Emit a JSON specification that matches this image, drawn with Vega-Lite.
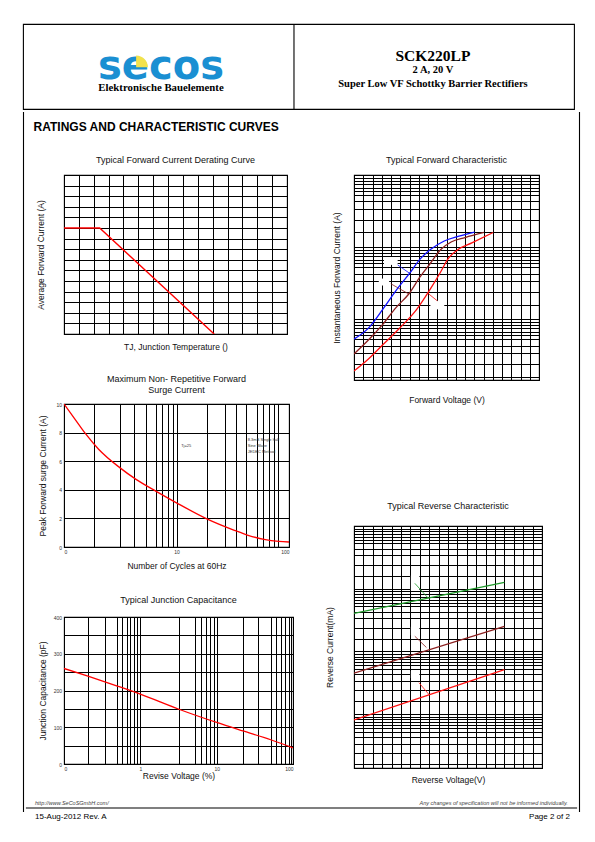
{
  "$schema": "https://vega.github.io/schema/vega-lite/v6.json",
  "background": "white",
  "padding": {"left": 22, "top": 22, "right": 0, "bottom": 0},
  "config": {
    "font": "Liberation Sans",
    "view": {"stroke": "#000", "strokeWidth": 1.1},
    "axis": {"grid": true, "gridColor": "#000", "gridOpacity": 1, "gridWidth": 1, "domain": false, "ticks": false, "labels": false, "titleFont": "Liberation Sans", "titleFontWeight": "normal", "titleFontSize": 8.5, "titleColor": "#111", "labelFont": "Liberation Sans", "labelFontSize": 5, "labelColor": "#333", "labelPadding": 2},
    "title": {"font": "Liberation Sans", "fontSize": 9, "fontWeight": "normal", "color": "#111", "lineHeight": 11}
  },
  "datasets": {
    "derate": [{"t": 0, "a": 2}, {"t": 24, "a": 2}, {"t": 101, "a": 0}],
    "surge": [{"n": 1, "a": 10}, {"n": 1.25, "a": 8.95}, {"n": 1.54, "a": 7.96}, {"n": 2.03, "a": 6.84}, {"n": 3.13, "a": 5.55}, {"n": 4.37, "a": 4.73}, {"n": 6.54, "a": 3.91}, {"n": 10, "a": 3.09}, {"n": 18.6, "a": 1.97}, {"n": 32.7, "a": 1.17}, {"n": 43.3, "a": 0.82}, {"n": 61.6, "a": 0.52}, {"n": 81.2, "a": 0.4}, {"n": 100, "a": 0.35}],
    "surgeText": [{"n": 11, "a": 7.04, "t": "Tj=25"}, {"n": 43, "a": 7.46, "t": "8.3mS Single half"}, {"n": 43, "a": 7.04, "t": "Sine Wave"}, {"n": 43, "a": 6.62, "t": "JEDEC Method"}],
    "cap": [{"v": 0.1, "c": 260}, {"v": 0.206, "c": 239}, {"v": 0.5, "c": 212}, {"v": 1, "c": 190}, {"v": 3.2, "c": 149}, {"v": 10, "c": 113}, {"v": 22, "c": 90}, {"v": 51, "c": 66}, {"v": 100, "c": 44}],
    "fwd": [
      {"s": "Tj=125°C", "v": 0, "i": 0.0534}, {"s": "Tj=125°C", "v": 0.078, "i": 0.0758}, {"s": "Tj=125°C", "v": 0.162, "i": 0.146}, {"s": "Tj=125°C", "v": 0.227, "i": 0.251}, {"s": "Tj=125°C", "v": 0.3, "i": 0.433}, {"s": "Tj=125°C", "v": 0.357, "i": 0.684}, {"s": "Tj=125°C", "v": 0.413, "i": 0.929}, {"s": "Tj=125°C", "v": 0.488, "i": 1.22}, {"s": "Tj=125°C", "v": 0.562, "i": 1.41}, {"s": "Tj=125°C", "v": 0.652, "i": 1.62},
      {"s": "Tj=75°C", "v": 0, "i": 0.0333}, {"s": "Tj=75°C", "v": 0.078, "i": 0.0518}, {"s": "Tj=75°C", "v": 0.153, "i": 0.084}, {"s": "Tj=75°C", "v": 0.227, "i": 0.146}, {"s": "Tj=75°C", "v": 0.296, "i": 0.225}, {"s": "Tj=75°C", "v": 0.357, "i": 0.388}, {"s": "Tj=75°C", "v": 0.413, "i": 0.6}, {"s": "Tj=75°C", "v": 0.469, "i": 0.929}, {"s": "Tj=75°C", "v": 0.525, "i": 1.18}, {"s": "Tj=75°C", "v": 0.6, "i": 1.36}, {"s": "Tj=75°C", "v": 0.702, "i": 1.6},
      {"s": "Tj=25°C", "v": 0, "i": 0.0193}, {"s": "Tj=25°C", "v": 0.078, "i": 0.0283}, {"s": "Tj=25°C", "v": 0.153, "i": 0.0439}, {"s": "Tj=25°C", "v": 0.246, "i": 0.0755}, {"s": "Tj=25°C", "v": 0.339, "i": 0.138}, {"s": "Tj=25°C", "v": 0.413, "i": 0.265}, {"s": "Tj=25°C", "v": 0.469, "i": 0.457}, {"s": "Tj=25°C", "v": 0.507, "i": 0.684}, {"s": "Tj=25°C", "v": 0.562, "i": 0.929}, {"s": "Tj=25°C", "v": 0.637, "i": 1.15}, {"s": "Tj=25°C", "v": 0.752, "i": 1.6}
    ],
    "fwdLead": [{"s": "Tj=125°C", "v": 0.236, "i": 0.569, "v2": 0.302, "i2": 0.433}, {"s": "Tj=75°C", "v": 0.199, "i": 0.312, "v2": 0.296, "i2": 0.225}, {"s": "Tj=25°C", "v": 0.4, "i": 0.23, "v2": 0.45, "i2": 0.181}],
    "fwdBox": [{"v": 0.162, "v2": 0.236, "i": 0.569, "i2": 0.732}, {"v": 0.134, "v2": 0.19, "i": 0.295, "i2": 0.368}, {"v": 0.413, "v2": 0.488, "i": 0.138, "i2": 0.181}],
    "rev": [{"s": "Tj=125°C", "v": 0, "i": 0.406}, {"s": "Tj=125°C", "v": 16, "i": 1.26}, {"s": "Tj=75°C", "v": 0, "i": 0.0451}, {"s": "Tj=75°C", "v": 16, "i": 0.252}, {"s": "Tj=25°C", "v": 0, "i": 0.00809}, {"s": "Tj=25°C", "v": 16, "i": 0.0512}],
    "revLead": [{"s": "Tj=125°C", "v": 6.47, "i": 1.22, "v2": 7.88, "i2": 0.711}, {"s": "Tj=75°C", "v": 6.47, "i": 0.175, "v2": 7.7, "i2": 0.116}, {"s": "Tj=25°C", "v": 6.91, "i": 0.0318, "v2": 7.99, "i2": 0.0205}],
    "revBox": [{"v": 6.05, "v2": 6.95, "i": 0.944, "i2": 1.62}, {"v": 6.05, "v2": 6.95, "i": 0.181, "i2": 0.248}, {"v": 6.05, "v2": 6.95, "i": 0.0378, "i2": 0.0487}]
  },
  "spacing": 0,
  "vconcat": [
    {
      "width": 551, "height": 85,
      "layer": [
        {"data": {"values": [{"t": "secos"}]}, "mark": {"type": "text", "font": "DejaVu Sans", "fontWeight": "bold", "fontSize": 40, "color": "#1a8fd2", "align": "center", "baseline": "alphabetic"}, "encoding": {"x": {"datum": 0.2505, "type": "quantitative", "scale": {"domain": [0, 1], "nice": false, "zero": false}, "axis": null}, "y": {"datum": 0.645, "type": "quantitative", "scale": {"domain": [0, 1], "reverse": true, "nice": false, "zero": false}, "axis": null}, "text": {"field": "t"}}},
        {"data": {"values": [{"t": "logo"}]}, "mark": {"type": "point", "shape": "M-1,1L-1,-1A2,2,0,0,1,1,1Z", "filled": true, "color": "#f2e24c", "opacity": 1, "size": 140}, "encoding": {"x": {"datum": 0.216, "type": "quantitative"}, "y": {"datum": 0.44, "type": "quantitative"}}},
        {"data": {"values": [{"t": "Elektronische Bauelemente"}]}, "mark": {"type": "text", "font": "Liberation Serif", "fontWeight": "bold", "fontSize": 10.8, "color": "#000", "align": "center", "baseline": "middle"}, "encoding": {"x": {"datum": 0.2505, "type": "quantitative"}, "y": {"datum": 0.75, "type": "quantitative"}, "text": {"field": "t"}}},
        {"data": {"values": [{"t": "SCK220LP"}]}, "mark": {"type": "text", "font": "Liberation Serif", "fontWeight": "bold", "fontSize": 15.5, "color": "#000", "align": "center", "baseline": "middle"}, "encoding": {"x": {"datum": 0.744, "type": "quantitative"}, "y": {"datum": 0.372, "type": "quantitative"}, "text": {"field": "t"}}},
        {"data": {"values": [{"t": "2 A, 20 V"}]}, "mark": {"type": "text", "font": "Liberation Serif", "fontWeight": "bold", "fontSize": 10.5, "color": "#000", "align": "center", "baseline": "middle"}, "encoding": {"x": {"datum": 0.744, "type": "quantitative"}, "y": {"datum": 0.537, "type": "quantitative"}, "text": {"field": "t"}}},
        {"data": {"values": [{"t": "Super Low VF Schottky Barrier Rectifiers"}]}, "mark": {"type": "text", "font": "Liberation Serif", "fontWeight": "bold", "fontSize": 10.5, "color": "#000", "align": "center", "baseline": "middle"}, "encoding": {"x": {"datum": 0.744, "type": "quantitative"}, "y": {"datum": 0.702, "type": "quantitative"}, "text": {"field": "t"}}},
        {"data": {"values": [{"t": "divider"}]}, "mark": {"type": "rule", "color": "#000", "strokeWidth": 1.1}, "encoding": {"x": {"datum": 0.4918, "type": "quantitative"}, "y": {"datum": 0, "type": "quantitative"}, "y2": {"datum": 1}}}
      ]
    },
    {
      "spacing": 0,
      "hconcat": [
        {
          "width": 1, "height": 700, "view": {"stroke": null},
          "data": {"values": [{"t": "left edge"}]},
          "mark": {"type": "rule", "color": "#000", "strokeWidth": 1.1},
          "encoding": {"x": {"datum": 0.5, "type": "quantitative", "scale": {"domain": [0, 1], "nice": false, "zero": false}, "axis": null}, "y": {"datum": 0, "type": "quantitative", "scale": {"domain": [0, 1], "nice": false, "zero": false}, "axis": null}, "y2": {"datum": 1}}
        },
        {
          "spacing": 0,
          "vconcat": [
            {
              "width": 549, "height": 42.5, "view": {"stroke": null},
              "data": {"values": [{"t": "RATINGS AND CHARACTERISTIC CURVES"}]},
              "mark": {"type": "text", "fontSize": 12, "fontWeight": "bold", "color": "#000", "align": "left", "baseline": "middle"},
              "encoding": {"x": {"datum": 0.012, "type": "quantitative", "scale": {"domain": [0, 1], "nice": false, "zero": false}, "axis": null}, "y": {"datum": 0.35, "type": "quantitative", "scale": {"domain": [0, 1], "reverse": true, "nice": false, "zero": false}, "axis": null}, "text": {"field": "t"}}
            },
            {
              "spacing": 0,
              "hconcat": [
                {
                  "width": 7.9, "height": 1, "view": {"stroke": null},
                  "data": {"values": [{"t": ""}]},
                  "mark": {"type": "text"},
                  "encoding": {"x": {"datum": 0, "type": "quantitative", "scale": {"domain": [0, 1], "nice": false, "zero": false}, "axis": null}, "y": {"datum": 0, "type": "quantitative", "scale": {"domain": [0, 1], "nice": false, "zero": false}, "axis": null}, "text": {"field": "t"}}
                },
                {
                  "spacing": 30,
                  "hconcat": [
                    {
                      "bounds": "flush",
                      "spacing": 70,
                      "vconcat": [
                        {
                          "width": 223, "height": 159,
                          "title": {"text": "Typical Forward Current Derating Curve", "offset": 10},
                          "data": {"name": "derate"},
                          "mark": {"type": "line", "color": "#ff0000", "strokeWidth": 1.4, "clip": true},
                          "encoding": {
                            "x": {"field": "t", "type": "quantitative", "scale": {"domain": [0, 150], "nice": false}, "axis": {"title": "TJ, Junction Temperature ()", "values": [0, 10, 20, 30, 40, 50, 60, 70, 80, 90, 100, 110, 120, 130, 140, 150], "titlePadding": 8.5}},
                            "y": {"field": "a", "type": "quantitative", "scale": {"domain": [0, 3], "nice": false}, "axis": {"title": "Average Forward Current (A)", "values": [0, 0.2, 0.4, 0.6, 0.8, 1, 1.2, 1.4, 1.6, 1.8, 2, 2.2, 2.4, 2.6, 2.8, 3], "titlePadding": 19}}
                          }
                        },
                        {
                          "width": 225, "height": 143,
                          "title": {"text": ["Maximum Non- Repetitive Forward", "Surge Current"], "offset": 7.5},
                          "encoding": {
                            "x": {"field": "n", "type": "quantitative", "scale": {"type": "log", "domain": [1, 100], "nice": false}, "axis": {"title": "Number of Cycles at 60Hz", "labels": true, "values": [1, 1.83, 3.13, 4.19, 5.35, 6.54, 7.47, 8.4, 9.26, 10, 18.6, 27.2, 33.5, 41.9, 51.6, 58.5, 65.9, 73.1, 80, 100], "labelExpr": "datum.value==1?'0':datum.value==10?'10':datum.value==100?'100':''", "titlePadding": 7.5}},
                            "y": {"field": "a", "type": "quantitative", "scale": {"domain": [0, 10], "nice": false}, "axis": {"title": "Peak Forward surge Current (A)", "labels": true, "values": [0, 2, 4, 6, 8, 10], "labelPadding": 2.5, "titlePadding": 8}}
                          },
                          "layer": [
                            {"data": {"name": "surge"}, "mark": {"type": "line", "color": "#ff0000", "strokeWidth": 1.3, "interpolate": "monotone", "clip": true}},
                            {"data": {"name": "surgeText"}, "mark": {"type": "text", "fontSize": 4, "color": "#333", "align": "left", "baseline": "middle"}, "encoding": {"text": {"field": "t"}}}
                          ]
                        },
                        {
                          "width": 229, "height": 147,
                          "title": {"text": "Typical Junction Capacitance", "offset": 10.5},
                          "data": {"name": "cap"},
                          "mark": {"type": "line", "color": "#ff0000", "strokeWidth": 1.3, "interpolate": "monotone", "clip": true},
                          "encoding": {
                            "x": {"field": "v", "type": "quantitative", "scale": {"type": "log", "domain": [0.1, 100], "nice": false}, "axis": {"title": "Revise Voltage (%)", "labels": true, "values": [0.1, 0.206, 0.342, 0.496, 0.577, 0.661, 0.726, 0.822, 0.912, 1, 3.23, 5.13, 6.29, 7.31, 8.26, 9.22, 10, 22.1, 35.3, 51.3, 59.4, 69.5, 78.7, 88.3, 94.9, 100], "labelExpr": "datum.value==0.1?'0':datum.value==1?'1':datum.value==10?'10':datum.value==100?'100':''", "titlePadding": 0.5}},
                            "y": {"field": "c", "type": "quantitative", "scale": {"domain": [0, 400], "nice": false}, "axis": {"title": "Junction Capacitance (pF)", "labels": true, "values": [0, 50, 100, 150, 200, 250, 300, 350, 400], "labelExpr": "datum.value%100==0?datum.label:''", "labelPadding": 2.5, "titlePadding": 5.2}}
                          }
                        }
                      ]
                    },
                    {
                      "bounds": "flush",
                      "spacing": 146,
                      "resolve": {"scale": {"color": "independent"}},
                      "vconcat": [
                        {
                          "width": 185, "height": 205,
                          "title": {"text": "Typical Forward Characteristic", "offset": 10},
                          "encoding": {
                            "x": {"field": "v", "type": "quantitative", "scale": {"domain": [0, 1], "nice": false}, "axis": {"title": "Forward Voltage (V)", "values": [0, 0.05, 0.1, 0.15, 0.2, 0.25, 0.3, 0.35, 0.4, 0.45, 0.5, 0.55, 0.6, 0.65, 0.7, 0.75, 0.8, 0.85, 0.9, 0.95, 1], "titlePadding": 15.5}},
                            "y": {"field": "i", "type": "quantitative", "scale": {"type": "log", "domain": [0.0145, 10], "nice": false}, "axis": {"title": "Instantaneous Forward Current (A)", "values": [0.016, 0.024, 0.034, 0.043, 0.053, 0.06, 0.067, 0.075, 0.083, 0.091, 0.1, 0.16, 0.24, 0.34, 0.43, 0.53, 0.6, 0.67, 0.75, 0.83, 0.91, 1, 1.6, 2.4, 3.4, 4.3, 5.3, 6, 6.7, 7.5, 8.3, 9.1, 10], "titlePadding": 13}}
                          },
                          "layer": [
                            {"data": {"name": "fwdBox"}, "mark": {"type": "rect", "fill": "#fff", "stroke": null}, "encoding": {"x2": {"field": "v2"}, "y2": {"field": "i2"}}},
                            {"data": {"name": "fwdLead"}, "mark": {"type": "rule", "strokeWidth": 0.8}, "encoding": {"x2": {"field": "v2"}, "y2": {"field": "i2"}, "color": {"field": "s", "type": "nominal", "scale": {"domain": ["Tj=125°C", "Tj=75°C", "Tj=25°C"], "range": ["#1010ff", "#8b2020", "#ff1010"]}, "legend": null}}},
                            {"data": {"name": "fwd"}, "mark": {"type": "line", "strokeWidth": 1.3, "interpolate": "monotone", "clip": true}, "encoding": {"color": {"field": "s", "type": "nominal", "scale": {"domain": ["Tj=125°C", "Tj=75°C", "Tj=25°C"], "range": ["#1010ff", "#8b2020", "#ff1010"]}, "legend": null}}}
                          ]
                        },
                        {
                          "width": 188, "height": 242,
                          "title": {"text": "Typical Reverse Characteristic", "offset": 15.5},
                          "encoding": {
                            "x": {"field": "v", "type": "quantitative", "scale": {"domain": [0, 20], "nice": false}, "axis": {"title": "Reverse Voltage(V)", "values": [0, 1, 2, 3, 4, 5, 6, 7, 8, 9, 10, 11, 12, 13, 14, 15, 16, 17, 18, 19, 20], "titlePadding": 7.5}},
                            "y": {"field": "i", "type": "quantitative", "scale": {"type": "log", "domain": [0.00139, 10], "nice": false}, "axis": {"title": "Reverse Current(mA)", "values": [0.0016, 0.0024, 0.0034, 0.0043, 0.0053, 0.006, 0.0067, 0.0075, 0.0083, 0.0091, 0.01, 0.016, 0.024, 0.034, 0.043, 0.053, 0.06, 0.067, 0.075, 0.083, 0.091, 0.1, 0.16, 0.24, 0.34, 0.43, 0.53, 0.6, 0.67, 0.75, 0.83, 0.91, 1, 1.6, 2.4, 3.4, 4.3, 5.3, 6, 6.7, 7.5, 8.3, 9.1, 10], "titlePadding": 20}}
                          },
                          "layer": [
                            {"data": {"name": "revBox"}, "mark": {"type": "rect", "fill": "#fff", "stroke": null}, "encoding": {"x2": {"field": "v2"}, "y2": {"field": "i2"}}},
                            {"data": {"name": "revLead"}, "mark": {"type": "rule", "strokeWidth": 0.8}, "encoding": {"x2": {"field": "v2"}, "y2": {"field": "i2"}, "color": {"field": "s", "type": "nominal", "scale": {"domain": ["Tj=125°C", "Tj=75°C", "Tj=25°C"], "range": ["#1f9a2a", "#8b2020", "#ff1010"]}, "legend": null}}},
                            {"data": {"name": "rev"}, "mark": {"type": "line", "strokeWidth": 1.3, "clip": true}, "encoding": {"color": {"field": "s", "type": "nominal", "scale": {"domain": ["Tj=125°C", "Tj=75°C", "Tj=25°C"], "range": ["#1f9a2a", "#8b2020", "#ff1010"]}, "legend": null}}}
                          ]
                        }
                      ]
                    }
                  ]
                }
              ]
            },
            {
              "width": 549, "height": 23, "view": {"stroke": null},
              "layer": [
                {"data": {"values": [{"t": "bottom edge"}]}, "mark": {"type": "rule", "color": "#000", "strokeWidth": 1.1}, "encoding": {"x": {"datum": -0.002, "type": "quantitative", "scale": {"domain": [0, 1], "nice": false, "zero": false}, "axis": null}, "x2": {"datum": 1.002}, "y": {"datum": 1, "type": "quantitative", "scale": {"domain": [0, 1], "reverse": true, "nice": false, "zero": false}, "axis": null}}},
                {"data": {"values": [{"t": "http://www.SeCoSGmbH.com/"}]}, "mark": {"type": "text", "fontSize": 5.5, "fontStyle": "italic", "color": "#444", "align": "left", "baseline": "middle"}, "encoding": {"x": {"datum": 0.0146, "type": "quantitative"}, "y": {"datum": 0.78, "type": "quantitative"}, "text": {"field": "t"}}},
                {"data": {"values": [{"t": "Any changes of specification will not be informed individually."}]}, "mark": {"type": "text", "fontSize": 5.5, "fontStyle": "italic", "color": "#444", "align": "right", "baseline": "middle"}, "encoding": {"x": {"datum": 0.985, "type": "quantitative"}, "y": {"datum": 0.78, "type": "quantitative"}, "text": {"field": "t"}}},
                {"data": {"values": [{"t": "15-Aug-2012 Rev. A"}]}, "mark": {"type": "text", "fontSize": 8, "color": "#000", "align": "left", "baseline": "middle"}, "encoding": {"x": {"datum": 0.0146, "type": "quantitative"}, "y": {"datum": 1.39, "type": "quantitative"}, "text": {"field": "t"}}},
                {"data": {"values": [{"t": "Page  2  of  2"}]}, "mark": {"type": "text", "fontSize": 8, "color": "#000", "align": "right", "baseline": "middle"}, "encoding": {"x": {"datum": 0.989, "type": "quantitative"}, "y": {"datum": 1.39, "type": "quantitative"}, "text": {"field": "t"}}}
              ]
            }
          ]
        },
        {
          "width": 1, "height": 700, "view": {"stroke": null},
          "data": {"values": [{"t": "right edge"}]},
          "mark": {"type": "rule", "color": "#000", "strokeWidth": 1.1},
          "encoding": {"x": {"datum": 0.5, "type": "quantitative", "scale": {"domain": [0, 1], "nice": false, "zero": false}, "axis": null}, "y": {"datum": 0, "type": "quantitative", "scale": {"domain": [0, 1], "nice": false, "zero": false}, "axis": null}, "y2": {"datum": 1}}
        }
      ]
    }
  ]
}
